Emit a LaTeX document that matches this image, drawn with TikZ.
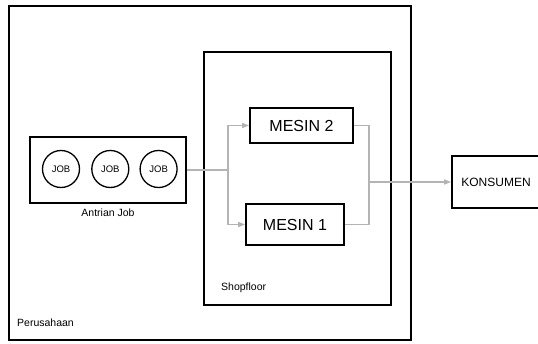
\documentclass[tikz,border=0pt]{standalone}
\usepackage{fontspec}
\setmainfont{Liberation Sans}
\usepackage{tikz}
\usetikzlibrary{arrows.meta, positioning}
\definecolor{flowgray}{HTML}{B4B4B4}

\begin{document}
\begin{tikzpicture}[
      x=1pt, y=-1pt, >={Triangle[length=7pt,width=5pt]},
      box/.style={draw=black, line width=1.7pt, inner sep=0pt},
      job/.style={circle, draw=black, line width=1.3pt, minimum size=37pt,
                  inner sep=0pt, font=\fontsize{9.5}{11}\selectfont},
      lbl/.style={font=\fontsize{10.5}{12}\selectfont, inner sep=0pt},
      flow/.style={draw=flowgray, line width=1.2pt},
    ]
    \useasboundingbox (0,0) rectangle (538,344);
    \clip (0,0) rectangle (538,344);

    % outer areas
    \node[box, minimum width=402pt, minimum height=334pt] (perusahaan) at (210,173) {};
    \node[lbl, anchor=west] (perusahaanlbl) at (17,323) {Perusahaan};
    \node[box, minimum width=187pt, minimum height=253pt] (shopfloor) at (297.5,178.5) {};
    \node[lbl, anchor=west] (shopfloorlbl) at (221,288) {Shopfloor};

    % job queue
    \node[box, minimum width=156pt, minimum height=66pt] (antrian) at (108,170) {};
    \node[job] (job1) at (61,169) {JOB};
    \node[job, right=11pt of job1] (job2) {JOB};
    \node[job, right=10pt of job2] (job3) {JOB};
    \node[lbl, below=5pt of antrian] (antrianlbl) {Antrian Job};

    % machines
    \node[box, minimum width=103pt, minimum height=35pt,
          font=\fontsize{16}{18}\selectfont] (mesin2) at (301.5,125.5) {MESIN 2};
    \node[box, minimum width=98pt, minimum height=41pt,
          font=\fontsize{16}{18}\selectfont] (mesin1) at (295,224.5) {MESIN 1};

    % customer
    \node[box, minimum width=88pt, minimum height=52pt,
          font=\fontsize{12}{14}\selectfont] (konsumen) at (496,182) {KONSUMEN};

    \coordinate (split) at (228,170);
    \coordinate (merge) at (369,182);

    \draw[flow] (antrian.east) -- (split);
    \draw[flow, ->] (split) |- (mesin2.west);
    \draw[flow, ->] (split) |- (mesin1.west);
    \draw[flow] (mesin2.east) -| (merge);
    \draw[flow] (mesin1.east) -| (merge);
    \draw[flow, ->] (merge) -- (konsumen.west);
  \end{tikzpicture}
\end{document}
